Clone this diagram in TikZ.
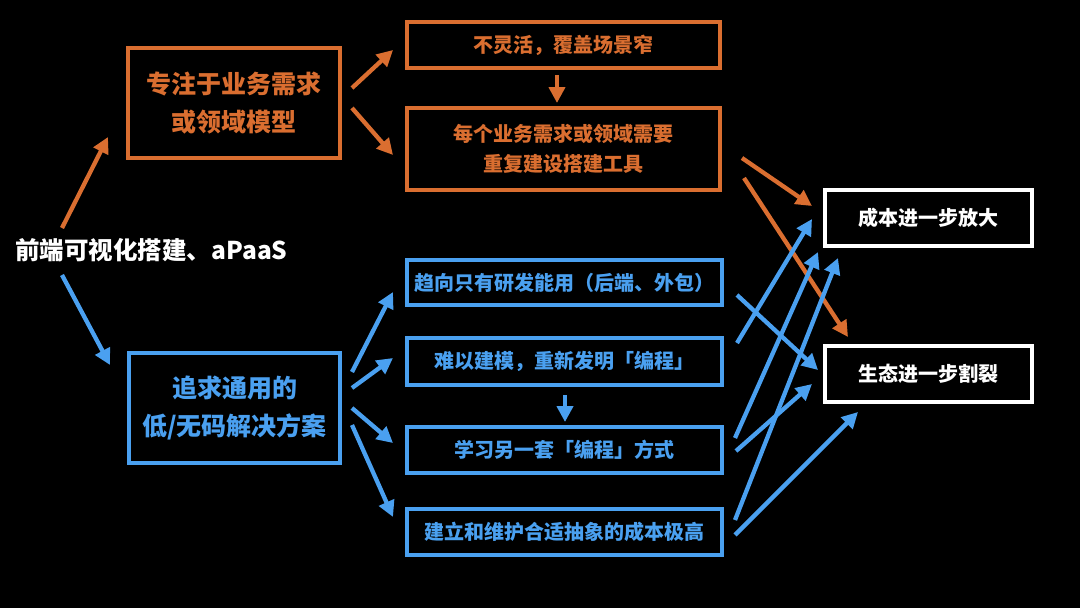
\documentclass[tikz,border=0pt]{standalone}
\usepackage{fontspec}
\setmainfont{Noto Sans CJK SC}
\usetikzlibrary{arrows.meta}
\definecolor{og}{RGB}{218,110,48}
\definecolor{bl}{RGB}{74,160,240}
\tikzset{
  box/.style={draw, line width=4pt, inner sep=0pt, align=center, font=\bfseries\fontsize{20}{30}\selectfont},
  bigbox/.style={box, font=\bfseries\fontsize{25}{38}\selectfont},
  obox/.style={draw=og, text=og},
  bbox/.style={draw=bl, text=bl},
  wbox/.style={draw=white, text=white},
  arr/.style={line width=4.3pt, -{Triangle[length=16pt,width=16pt]}},
  oarr/.style={arr, og},
  barr/.style={arr, bl}
}
\begin{document}
\begin{tikzpicture}[x=1pt,y=-1pt]
\fill[black] (0,0) rectangle (1080,608);
\useasboundingbox (0,0) rectangle (1080,608);

\node[text=white, font=\bfseries\fontsize{24.5}{30}\selectfont] (root) at (151.5,250) {前端可视化搭建、aPaaS};

\node[bigbox, obox, minimum width=212pt, minimum height=110pt] (A) at (234,103) {专注于业务需求\\或领域模型};
\node[box, obox, minimum width=313pt, minimum height=46pt] (B) at (563.5,45) {不灵活，覆盖场景窄};
\node[box, obox, minimum width=313pt, minimum height=82pt] (C) at (563.5,149) {每个业务需求或领域需要\\重复建设搭建工具};

\node[bigbox, bbox, minimum width=211pt, minimum height=110pt] (D) at (234.5,408) {追求通用的\\低/无码解决方案};
\node[box, bbox, minimum width=315pt, minimum height=45pt] (E) at (564.5,282.5) {趋向只有研发能用（后端、外包）};
\node[box, bbox, minimum width=315pt, minimum height=47pt] (F) at (564.5,361.5) {难以建模，重新发明「编程」};
\node[box, bbox, minimum width=315pt, minimum height=46pt] (G) at (564.5,450) {学习另一套「编程」方式};
\node[box, bbox, minimum width=315pt, minimum height=46pt] (H) at (564.5,532) {建立和维护合适抽象的成本极高};

\node[box, wbox, minimum width=207pt, minimum height=56pt] (I) at (928.5,218) {成本进一步放大};
\node[box, wbox, minimum width=207pt, minimum height=56pt] (J) at (928.5,374) {生态进一步割裂};

% root arrows
\draw[oarr] ([shift={(-89.5,-22)}]root.center) -- ([shift={(-126,34)}]A.center);
\draw[barr] ([shift={(-89.5,25)}]root.center) -- ([shift={(-124.5,-43)}]D.center);

% orange branch
\draw[oarr] ([shift={(118,-15)}]A.center) -- ([shift={(-170.5,5)}]B.center);
\draw[oarr] ([shift={(118,5)}]A.center) -- ([shift={(-170.5,6)}]C.center);
\draw[oarr] ([shift={(-6.5,30)}]B.center) -- ([shift={(-6.5,-46)}]C.center);
\draw[oarr] ([shift={(178.5,9)}]C.center) -- ([shift={(-116.5,-12)}]I.center);
\draw[oarr] ([shift={(180.5,29)}]C.center) -- ([shift={(-80.5,-37)}]J.center);

% blue branch
\draw[barr] ([shift={(117.5,-36)}]D.center) -- ([shift={(-171.5,9.5)}]E.center);
\draw[barr] ([shift={(117.5,-20)}]D.center) -- ([shift={(-171.5,-3.5)}]F.center);
\draw[barr] ([shift={(117.5,0)}]D.center) -- ([shift={(-171.5,-7)}]G.center);
\draw[barr] ([shift={(117.5,17)}]D.center) -- ([shift={(-171.5,-15)}]H.center);
\draw[barr] ([shift={(0.5,33.5)}]F.center) -- ([shift={(0.5,-28)}]G.center);

\draw[barr] ([shift={(172.5,12.5)}]E.center) -- ([shift={(-110.5,-4)}]J.center);
\draw[barr] ([shift={(172.5,-18.5)}]F.center) -- ([shift={(-116.5,1)}]I.center);
\draw[barr] ([shift={(170.5,-12)}]G.center) -- ([shift={(-110.5,34)}]I.center);
\draw[barr] ([shift={(171.5,1)}]G.center) -- ([shift={(-116.5,10)}]J.center);
\draw[barr] ([shift={(170.5,-12)}]H.center) -- ([shift={(-90.5,40)}]I.center);
\draw[barr] ([shift={(170.5,3)}]H.center) -- ([shift={(-70.5,38)}]J.center);
\end{tikzpicture}
\end{document}
